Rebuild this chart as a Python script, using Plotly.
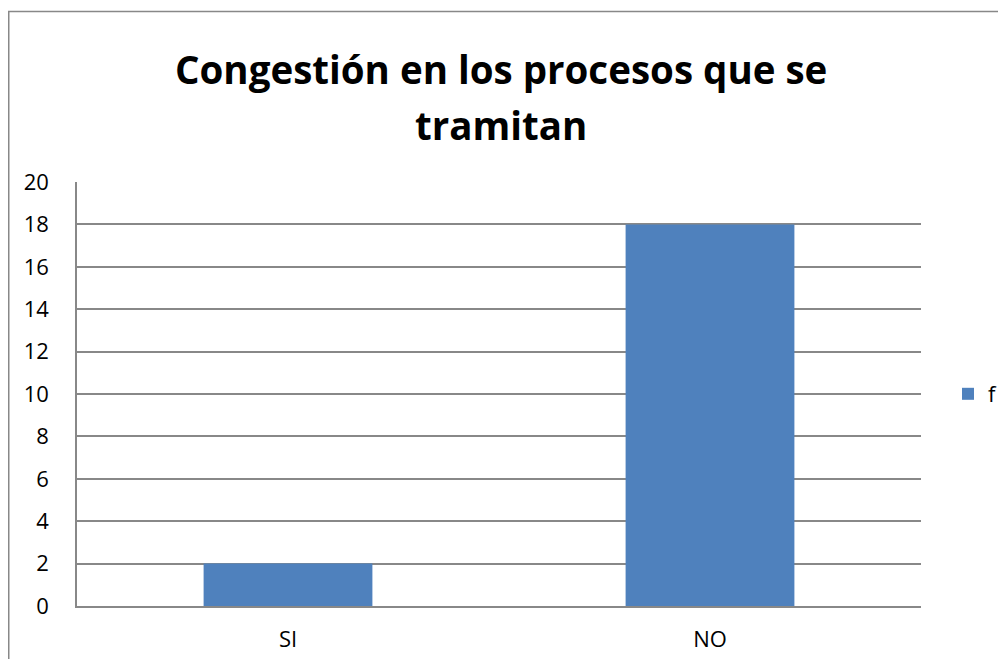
import plotly.graph_objects as go

categories = ['SI', 'NO']
f_values = [2, 18]
y_ticks = list(range(0, 21, 2))
title_lines = ['Congestión en los procesos que se', 'tramitan']

# the page body has an 8px margin, so the figure is 16px smaller than the window
OFF = 8
W, H = 1006 - 2 * OFF, 667 - 2 * OFF
L, T = 77 - OFF, 182 - OFF
R, B = W - (921 - OFF), H - (606 - OFF)
pw, ph = W - L - R, H - T - B


def px_x(p):
    return (p - OFF - L) / pw


def px_y(p):
    return (H - B - (p - OFF)) / ph


fig = go.Figure()

fig.add_trace(
    go.Bar(
        x=categories, y=f_values, name='f',
        marker=dict(color='#4F81BD', line=dict(width=0))
    )
)

# title drawn as two annotations to get Excel-like line spacing
for text, ypix in zip(title_lines, [69, 125]):
    fig.add_annotation(
        text='<b>' + text + '</b>', xref='paper', yref='paper',
        x=px_x(501), y=px_y(ypix), xanchor='center', yanchor='middle',
        showarrow=False, font=dict(size=38.5, color='black')
    )

fig.update_layout(
    width=W, height=H,
    margin=dict(l=L, r=R, t=T, b=B, autoexpand=False),
    paper_bgcolor='white', plot_bgcolor='white',
    font=dict(family='Open Sans, Liberation Sans, sans-serif', size=22, color='black'),
    bargap=0.6,
    showlegend=True,
    legend=dict(x=px_x(948), y=0.5, xanchor='left', yanchor='middle',
                font=dict(size=22), itemwidth=30),
    xaxis=dict(showline=True, linecolor='#888888', linewidth=1.5,
               ticks='', showgrid=False, ticklabelstandoff=13),
    yaxis=dict(range=[0, 20], tickvals=y_ticks, showline=True, linecolor='#888888',
               linewidth=1.5, showgrid=True, gridcolor='#888888', gridwidth=1.5,
               ticks='', zeroline=False, ticklabelstandoff=22),
    shapes=[dict(type='rect', xref='paper', yref='paper',
                 x0=px_x(8.75), x1=px_x(1030), y0=px_y(700), y1=px_y(11.5),
                 line=dict(color='#888888', width=1.5))]
)

fig.write_html("out.html")
